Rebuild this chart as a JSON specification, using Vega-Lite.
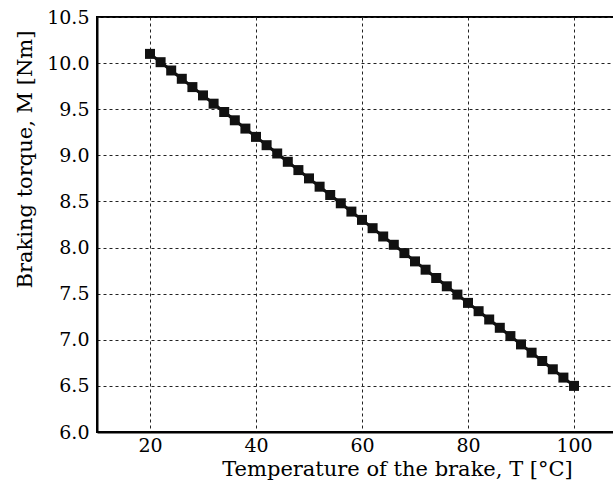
{
  "$schema": "https://vega.github.io/schema/vega-lite/v6.json",
  "width": 530,
  "height": 415,
  "autosize": "none",
  "padding": {"left": 97, "top": 17, "right": 0, "bottom": 56},
  "background": "white",
  "config": {
    "view": {"stroke": "black", "strokeWidth": 2},
    "font": "DejaVu Serif"
  },
  "data": {
    "values": [
      {"T": 20, "M": 10.1}, {"T": 22, "M": 10.01}, {"T": 24, "M": 9.92}, {"T": 26, "M": 9.83},
      {"T": 28, "M": 9.74}, {"T": 30, "M": 9.65}, {"T": 32, "M": 9.56}, {"T": 34, "M": 9.47},
      {"T": 36, "M": 9.38}, {"T": 38, "M": 9.29}, {"T": 40, "M": 9.2}, {"T": 42, "M": 9.11},
      {"T": 44, "M": 9.02}, {"T": 46, "M": 8.93}, {"T": 48, "M": 8.84}, {"T": 50, "M": 8.75},
      {"T": 52, "M": 8.66}, {"T": 54, "M": 8.57}, {"T": 56, "M": 8.48}, {"T": 58, "M": 8.39},
      {"T": 60, "M": 8.3}, {"T": 62, "M": 8.21}, {"T": 64, "M": 8.12}, {"T": 66, "M": 8.03},
      {"T": 68, "M": 7.94}, {"T": 70, "M": 7.85}, {"T": 72, "M": 7.76}, {"T": 74, "M": 7.67},
      {"T": 76, "M": 7.58}, {"T": 78, "M": 7.49}, {"T": 80, "M": 7.4}, {"T": 82, "M": 7.31},
      {"T": 84, "M": 7.22}, {"T": 86, "M": 7.13}, {"T": 88, "M": 7.04}, {"T": 90, "M": 6.95},
      {"T": 92, "M": 6.86}, {"T": 94, "M": 6.77}, {"T": 96, "M": 6.68}, {"T": 98, "M": 6.59},
      {"T": 100, "M": 6.5}
    ]
  },
  "encoding": {
    "x": {
      "field": "T", "type": "quantitative",
      "scale": {"domain": [10, 110], "nice": false, "zero": false},
      "axis": {
        "values": [20, 40, 60, 80, 100],
        "title": "Temperature of the brake, T [°C]",
        "titleX": 300, "titleY": 37, "titleAlign": "center", "titleBaseline": "middle",
        "titleFontSize": 21, "titleFontWeight": "normal", "titleColor": "black",
        "labelFontSize": 19, "labelColor": "black", "labelPadding": 4,
        "ticks": false, "domain": true, "domainColor": "black", "domainWidth": 2,
        "grid": true, "gridColor": "#222", "gridDash": [3, 3], "gridWidth": 1
      }
    },
    "y": {
      "field": "M", "type": "quantitative",
      "scale": {"domain": [6.0, 10.5], "nice": false, "zero": false},
      "axis": {
        "values": [6.0, 6.5, 7.0, 7.5, 8.0, 8.5, 9.0, 9.5, 10.0, 10.5],
        "format": ".1f",
        "title": "Braking torque, M [Nm]",
        "titleX": -72, "titleY": 142, "titleAlign": "center", "titleBaseline": "middle", "titleAngle": -90,
        "titleFontSize": 21, "titleFontWeight": "normal", "titleColor": "black",
        "labelFontSize": 19, "labelColor": "black", "labelPadding": 8,
        "ticks": false, "domain": true, "domainColor": "black", "domainWidth": 2,
        "grid": true, "gridColor": "#222", "gridDash": [3, 3], "gridWidth": 1
      }
    }
  },
  "layer": [
    {"mark": {"type": "line", "color": "#111", "strokeWidth": 3}},
    {"mark": {"type": "point", "shape": "square", "filled": true, "color": "#111", "size": 100, "opacity": 1}}
  ]
}
